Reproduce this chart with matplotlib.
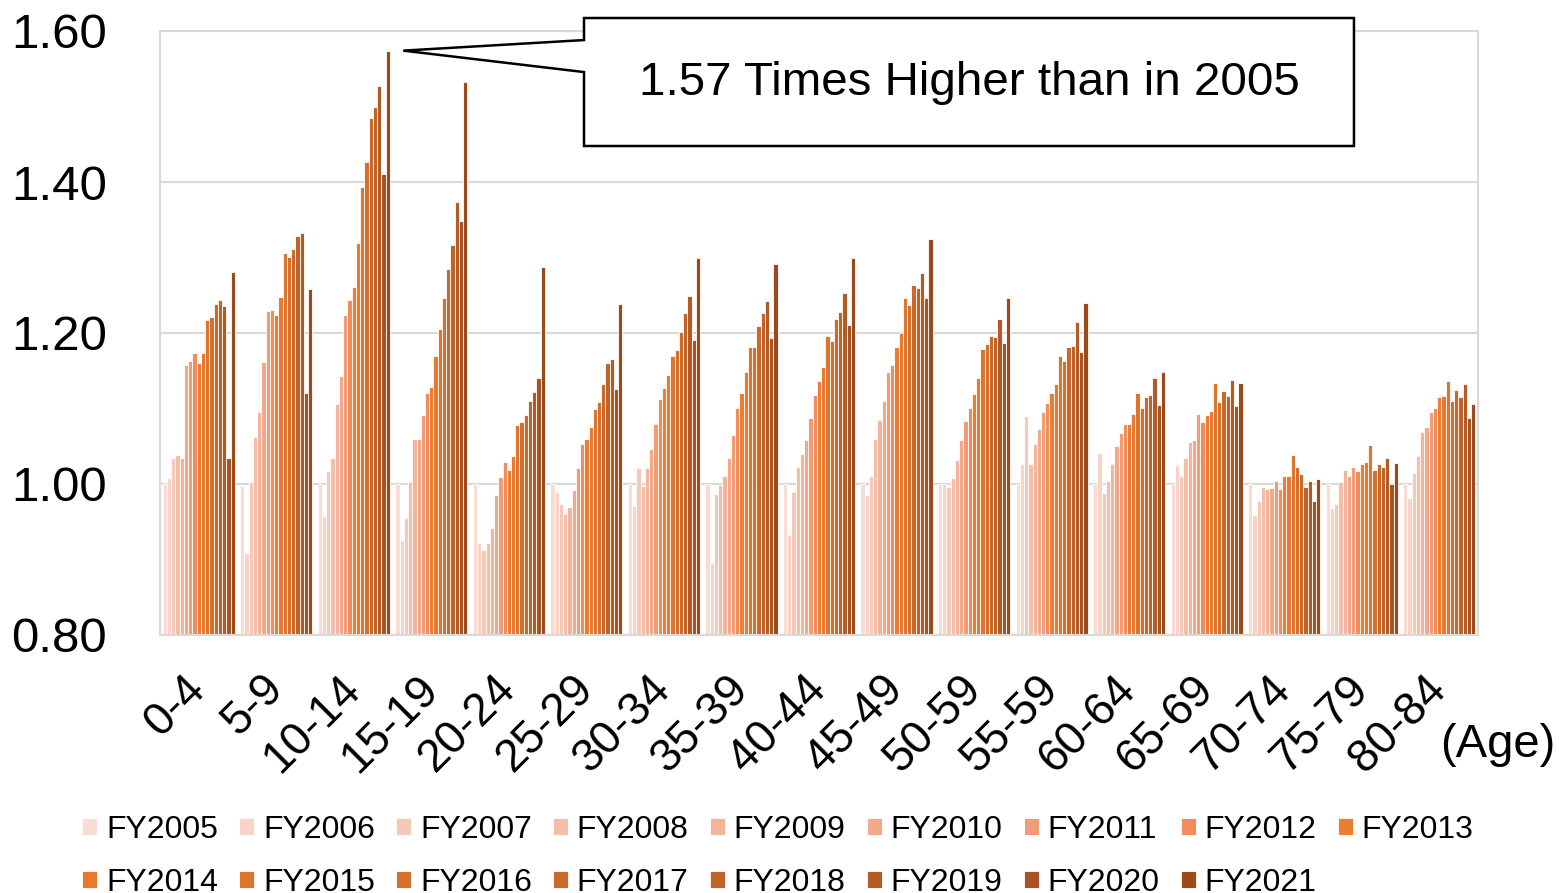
import numpy as np
import matplotlib
matplotlib.use("Agg")
import matplotlib.pyplot as plt
from matplotlib.patches import Polygon

plt.rcParams['font.family'] = ['Liberation Sans', 'DejaVu Sans']

# grupy wiekowe (tak jak w oryginale, lacznie z "50-59")
ages = ["0-4", "5-9", "10-14", "15-19", "20-24", "25-29", "30-34", "35-39", "40-44",
        "45-49", "50-59", "55-59", "60-64", "65-69", "70-74", "75-79", "80-84"]
years = ["FY%d" % y for y in range(2005, 2022)]

# wartosci, wiersz = grupa wiekowa, kolumny FY2005..FY2021
v_0_4   = [1.000, 1.008, 1.035, 1.039, 1.035, 1.157, 1.163, 1.173, 1.160, 1.174, 1.217, 1.221, 1.238, 1.244, 1.236, 1.035, 1.281]
v_5_9   = [0.998, 0.908, 1.002, 1.062, 1.096, 1.162, 1.229, 1.230, 1.224, 1.248, 1.306, 1.301, 1.311, 1.328, 1.332, 1.120, 1.258]
v_10_14 = [1.000, 0.958, 1.017, 1.034, 1.106, 1.143, 1.224, 1.244, 1.261, 1.319, 1.394, 1.427, 1.485, 1.500, 1.527, 1.410, 1.574]
v_15_19 = [1.000, 0.926, 0.955, 1.002, 1.060, 1.059, 1.091, 1.121, 1.128, 1.169, 1.205, 1.247, 1.285, 1.317, 1.374, 1.348, 1.533]
v_20_24 = [1.000, 0.922, 0.913, 0.922, 0.942, 0.985, 1.009, 1.029, 1.018, 1.037, 1.078, 1.082, 1.091, 1.110, 1.122, 1.140, 1.287]
v_25_29 = [1.000, 0.989, 0.973, 0.960, 0.970, 0.992, 1.021, 1.053, 1.059, 1.076, 1.099, 1.108, 1.133, 1.160, 1.165, 1.126, 1.238]
v_30_34 = [1.000, 0.971, 1.021, 0.997, 1.021, 1.046, 1.079, 1.113, 1.127, 1.145, 1.169, 1.177, 1.201, 1.227, 1.249, 1.191, 1.300]
v_35_39 = [1.000, 0.895, 0.987, 0.999, 1.011, 1.035, 1.065, 1.101, 1.121, 1.148, 1.181, 1.182, 1.209, 1.227, 1.242, 1.193, 1.292]
v_40_44 = [1.000, 0.933, 0.989, 1.022, 1.040, 1.058, 1.087, 1.118, 1.137, 1.155, 1.196, 1.189, 1.219, 1.228, 1.253, 1.211, 1.300]
v_45_49 = [1.000, 0.985, 1.011, 1.059, 1.085, 1.110, 1.148, 1.158, 1.181, 1.200, 1.247, 1.237, 1.263, 1.260, 1.280, 1.246, 1.325]
v_50_54 = [1.000, 1.000, 0.996, 1.008, 1.032, 1.058, 1.083, 1.101, 1.119, 1.141, 1.179, 1.186, 1.196, 1.195, 1.219, 1.187, 1.246]
v_55_59 = [1.000, 1.026, 1.090, 1.026, 1.053, 1.073, 1.095, 1.107, 1.121, 1.133, 1.170, 1.163, 1.181, 1.183, 1.215, 1.175, 1.240]
v_60_64 = [1.000, 1.041, 0.988, 1.004, 1.026, 1.050, 1.067, 1.079, 1.080, 1.093, 1.121, 1.100, 1.115, 1.118, 1.140, 1.105, 1.148]
v_65_69 = [1.000, 1.025, 1.011, 1.035, 1.055, 1.058, 1.093, 1.082, 1.092, 1.097, 1.134, 1.109, 1.123, 1.117, 1.138, 1.103, 1.134]
v_70_74 = [1.000, 0.959, 0.978, 0.996, 0.993, 0.995, 1.004, 0.993, 1.011, 1.010, 1.039, 1.022, 1.013, 0.996, 1.004, 0.978, 1.007]
v_75_79 = [1.000, 0.968, 0.973, 1.002, 1.018, 1.011, 1.022, 1.017, 1.026, 1.029, 1.051, 1.019, 1.026, 1.022, 1.035, 1.000, 1.028]
v_80_84 = [1.000, 0.982, 1.015, 1.037, 1.069, 1.076, 1.096, 1.101, 1.115, 1.116, 1.137, 1.110, 1.124, 1.115, 1.132, 1.087, 1.106]

data = np.array([v_0_4, v_5_9, v_10_14, v_15_19, v_20_24, v_25_29, v_30_34, v_35_39, v_40_44,
                 v_45_49, v_50_54, v_55_59, v_60_64, v_65_69, v_70_74, v_75_79, v_80_84])

colors = ["#F9DCD3", "#F8D3C6", "#F6C8B8", "#F5BEA9", "#F4B49B", "#F2A98B", "#F09C77", "#EF8D5C",
          "#ED7D31", "#E77A30", "#DE752E", "#D46F2C", "#CA692A", "#C06328", "#B45B25", "#A85322", "#9B4A1E"]

fig = plt.figure(figsize=(15.6, 8.93), dpi=100)
ax = fig.add_axes([160/1560, 1 - 635/893, 1318/1560, 604/893])

x = np.arange(len(ages))
n = len(years)
group = 0.93
w = group / n
bars = []
for i in range(n):
    b = ax.bar(x - group/2 + (i + 0.5)*w, data[:, i], w, color=colors[i],
               edgecolor='white', linewidth=0.6, label=years[i], zorder=2)
    bars.append(b)

ax.set_xlim(-0.5, len(ages) - 0.5)
ax.set_ylim(0.8, 1.6)
ax.set_yticks([0.8, 1.0, 1.2, 1.4, 1.6])
ax.set_yticklabels(["%.2f" % t for t in [0.8, 1.0, 1.2, 1.4, 1.6]], fontsize=35.5)
ax.yaxis.grid(True, color='#D9D9D9', linewidth=1.5, zorder=0)
ax.set_axisbelow(True)
for s in ax.spines.values():
    s.set_color('#D9D9D9')
    s.set_linewidth(1.5)
ax.tick_params(axis='y', length=0, pad=38)
ax.tick_params(axis='x', length=0, pad=34)
ax.set_xticks(x)
ax.set_xticklabels(ages, fontsize=33, rotation=45, ha='right', va='center', rotation_mode='anchor')

fig.text(1440/1560, 1 - 745/893, "(Age)", fontsize=34, ha='left', va='center')

# dymek z opisem - grot wskazuje (troche z prawej) slupek 10-14 FY2021
tip_disp = ax.transData.transform((x[2] - group/2 + (n - 0.5)*w + 0.2, data[2, -1]))
to_fig = fig.transFigure.inverted()
tip = to_fig.transform(tip_disp)
pts_ax = [(0.3217, 1.0215), (0.9059, 1.0215), (0.9059, 0.8096), (0.3217, 0.8096),
          (0.3217, 0.932), None, (0.3217, 0.985)]
pts = []
for p in pts_ax:
    if p is None:
        pts.append(tip)
    else:
        pts.append(to_fig.transform(ax.transAxes.transform(p)))
callout = Polygon(pts, closed=True, facecolor='white', edgecolor='black', linewidth=1.8,
                  transform=fig.transFigure, zorder=5)
fig.patches.append(callout)
fig.text(969/1560, 1 - 83/893, "1.57 Times Higher than in 2005", fontsize=34.2,
         ha='center', va='center', zorder=6)

# legenda wierszami: FY2005..FY2013 w pierwszym, reszta w drugim
order = []
for c in range(9):
    order.append(c)
    if c + 9 < n:
        order.append(c + 9)
fig.legend([bars[k] for k in order], [years[k] for k in order], ncol=9,
           loc='upper left', bbox_to_anchor=(82/1560, 1 - 815/893), frameon=False,
           fontsize=23, handlelength=0.47, handleheight=0.47, handletextpad=0.28,
           columnspacing=0.66, labelspacing=0.72, borderpad=0, borderaxespad=0)

fig.savefig("out.png", dpi=100)
